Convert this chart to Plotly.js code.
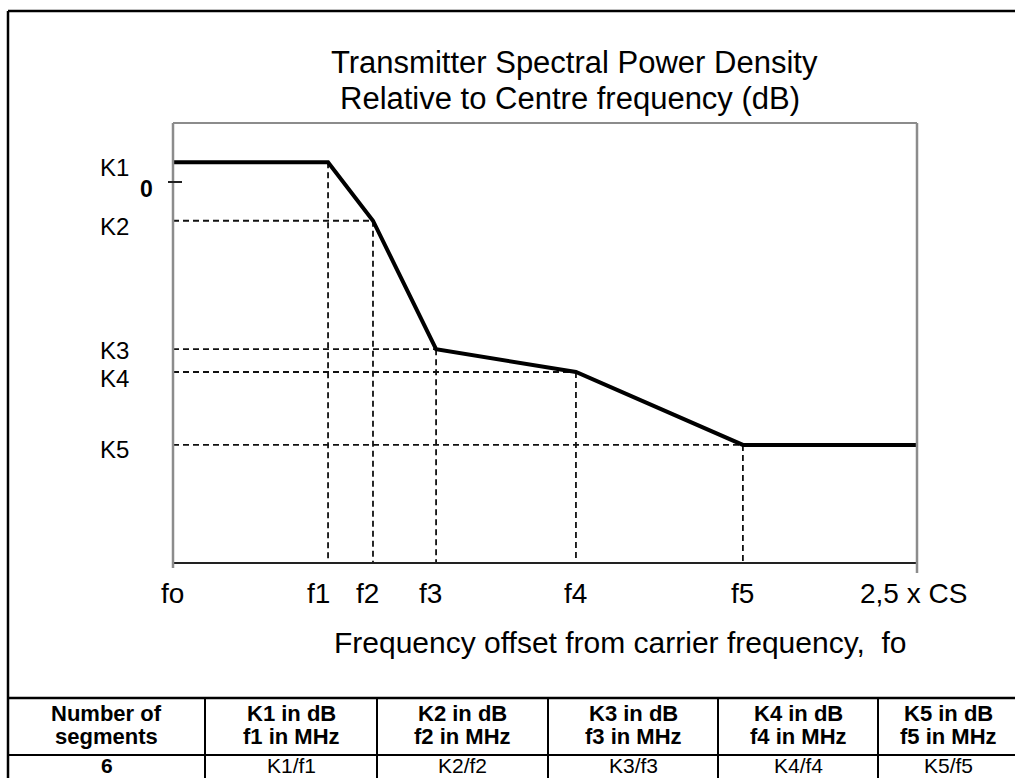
<!DOCTYPE html>
<html>
<head>
<meta charset="utf-8">
<script src="https://cdn.plot.ly/plotly-3.0.1.min.js"></script>
<style>html,body{margin:0;padding:0;background:#fff;}#chart{width:1015px;height:778px;}</style>
</head>
<body>
<div id="chart"></div>
<script>
// ---- data (abstract units: x in multiples of CS, y in dB) ----
const freqLabels = ['fo', 'f1', 'f2', 'f3', 'f4', 'f5', '2,5 x CS'];
const freqValues = [0, 0.521, 0.672, 0.884, 1.354, 1.915, 2.5];
const levelLabels = ['K1', 'K2', 'K3', 'K4', 'K5'];
const levelValues = [2.6, -5.1, -22.0, -25.0, -34.6];
const yRange = [-50, 7.76];
const titleLines = ['Transmitter Spectral Power Density', 'Relative to Centre frequency (dB)'];
const xTitle = 'Frequency offset from carrier frequency,  fo';
const tableHeader1 = ['Number of', 'K1 in dB', 'K2 in dB', 'K3 in dB', 'K4 in dB', 'K5 in dB'];
const tableHeader2 = ['segments', 'f1 in MHz', 'f2 in MHz', 'f3 in MHz', 'f4 in MHz', 'f5 in MHz'];
const tableRow = ['6', 'K1/f1', 'K2/f2', 'K3/f3', 'K4/f4', 'K5/f5'];

// ---- geometry / style ----
const W = 1015, H = 778;
const px = v => v / W;
const py = v => 1 - v / H;
const FONT = 'Liberation Sans, Arial, sans-serif';
const xEnd = freqValues[freqValues.length - 1];
const fPts = freqValues.slice(1, 6);

// spectral mask curve
const curveX = [0].concat(fPts, [xEnd]);
const curveY = [levelValues[0]].concat(levelValues, [levelValues[4]]);

// dashed guides
const gx = [], gy = [];
for (let i = 0; i < fPts.length; i++) {
  if (i > 0) { gx.push(0, fPts[i], null); gy.push(levelValues[i], levelValues[i], null); }
  gx.push(fPts[i], fPts[i], null); gy.push(levelValues[i], yRange[0], null);
}

const traces = [
  {x: gx, y: gy, mode: 'lines', line: {color: '#111', width: 1.8, dash: '6px,4px'}, hoverinfo: 'skip', connectgaps: false},
  {x: curveX, y: curveY, mode: 'lines', line: {color: '#000', width: 4}, hoverinfo: 'skip'}
];

const shapes = [];
const annotations = [];
const lineGray = '#8c8c8c';
// plot frame (top, right, left)
shapes.push({type: 'line', xref: 'x domain', yref: 'y domain', x0: 0, x1: 1, y0: 1, y1: 1, line: {color: lineGray, width: 2}});
shapes.push({type: 'line', xref: 'x domain', yref: 'paper', x0: 1, x1: 1, y0: py(573), y1: py(123), line: {color: lineGray, width: 2.5}});
shapes.push({type: 'line', xref: 'x domain', yref: 'paper', x0: 0, x1: 0, y0: py(568), y1: py(123), line: {color: lineGray, width: 2.5}});
// zero tick
shapes.push({type: 'line', xref: 'paper', yref: 'y', x0: px(168), x1: px(182), y0: 0, y1: 0, line: {color: '#222', width: 2}});
// outer border
shapes.push({type: 'line', xref: 'paper', yref: 'paper', x0: px(8), x1: px(8), y0: -0.02, y1: py(11), line: {color: '#000', width: 2.5}});
shapes.push({type: 'line', xref: 'paper', yref: 'paper', x0: px(8), x1: 1.02, y0: py(11), y1: py(11), line: {color: '#000', width: 2.5}});
// table
const colEdges = [8, 205, 377, 548, 718, 878, 1018];
shapes.push({type: 'line', xref: 'paper', yref: 'paper', x0: px(8), x1: 1.02, y0: py(698), y1: py(698), line: {color: '#000', width: 2.5}});
shapes.push({type: 'line', xref: 'paper', yref: 'paper', x0: px(8), x1: 1.02, y0: py(755), y1: py(755), line: {color: '#000', width: 2}});
for (let c = 1; c < colEdges.length - 1; c++) {
  shapes.push({type: 'line', xref: 'paper', yref: 'paper', x0: px(colEdges[c]), x1: px(colEdges[c]), y0: -0.02, y1: py(698), line: {color: '#000', width: 2}});
}
const tblFont = {family: FONT, size: 22, color: '#000'};
for (let c = 0; c < tableHeader1.length; c++) {
  const cx = px((colEdges[c] + colEdges[c + 1]) / 2);
  annotations.push({xref: 'paper', yref: 'paper', x: cx, y: py(713), text: '<b>' + tableHeader1[c] + '</b>', showarrow: false, font: tblFont, xanchor: 'center', yanchor: 'middle'});
  annotations.push({xref: 'paper', yref: 'paper', x: cx, y: py(736), text: '<b>' + tableHeader2[c] + '</b>', showarrow: false, font: tblFont, xanchor: 'center', yanchor: 'middle'});
  annotations.push({xref: 'paper', yref: 'paper', x: cx, y: 0, text: c === 0 ? '<b>' + tableRow[c] + '</b>' : tableRow[c], showarrow: false, font: {family: FONT, size: 21, color: '#000'}, xanchor: 'center', yanchor: 'bottom', borderpad: 0});
}

// level labels
const levelShift = [-5, -6, -1, -7, -5];
for (let i = 0; i < levelLabels.length; i++) {
  annotations.push({xref: 'paper', yref: 'y', x: px(114), y: levelValues[i], yshift: levelShift[i], text: levelLabels[i], showarrow: false, font: {family: FONT, size: 24, color: '#000'}, xanchor: 'center', yanchor: 'middle', borderpad: 0});
}
annotations.push({xref: 'paper', yref: 'y', x: px(146), y: 0, yshift: -7, text: '<b>0</b>', showarrow: false, font: {family: FONT, size: 23, color: '#000'}, xanchor: 'center', yanchor: 'middle'});

// frequency labels
const labelShift = [-1, -10, -5, -6, 0, 0, -4];
for (let i = 0; i < freqLabels.length; i++) {
  annotations.push({xref: 'x', yref: 'paper', x: freqValues[i], xshift: labelShift[i], y: py(593), text: freqLabels[i], showarrow: false, font: {family: FONT, size: 28, color: '#000'}, xanchor: 'center', yanchor: 'middle'});
}
// titles
annotations.push({xref: 'paper', yref: 'paper', x: px(574), y: py(62), text: titleLines[0], showarrow: false, font: {family: FONT, size: 31, color: '#000'}, xanchor: 'center', yanchor: 'middle'});
annotations.push({xref: 'paper', yref: 'paper', x: px(570), y: py(99), text: titleLines[1], showarrow: false, font: {family: FONT, size: 31, color: '#000'}, xanchor: 'center', yanchor: 'middle'});
annotations.push({xref: 'paper', yref: 'paper', x: px(620), y: py(642), text: xTitle, showarrow: false, font: {family: FONT, size: 30, color: '#000'}, xanchor: 'center', yanchor: 'middle'});

const layout = {
  width: W, height: H,
  margin: {l: 0, r: 0, t: 0, b: 0},
  paper_bgcolor: '#fff', plot_bgcolor: '#fff',
  showlegend: false,
  xaxis: {domain: [px(173), px(917)], range: [0, xEnd], showgrid: false, zeroline: false, showticklabels: false,
          showline: true, linecolor: '#222', linewidth: 1.5, ticks: '', fixedrange: true},
  yaxis: {domain: [py(562), py(123)], range: yRange, showgrid: false, zeroline: false, showticklabels: false,
          showline: false, ticks: '', fixedrange: true},
  shapes: shapes,
  annotations: annotations
};

Plotly.newPlot('chart', traces, layout, {staticPlot: true, displayModeBar: false});
</script>
</body>
</html>
